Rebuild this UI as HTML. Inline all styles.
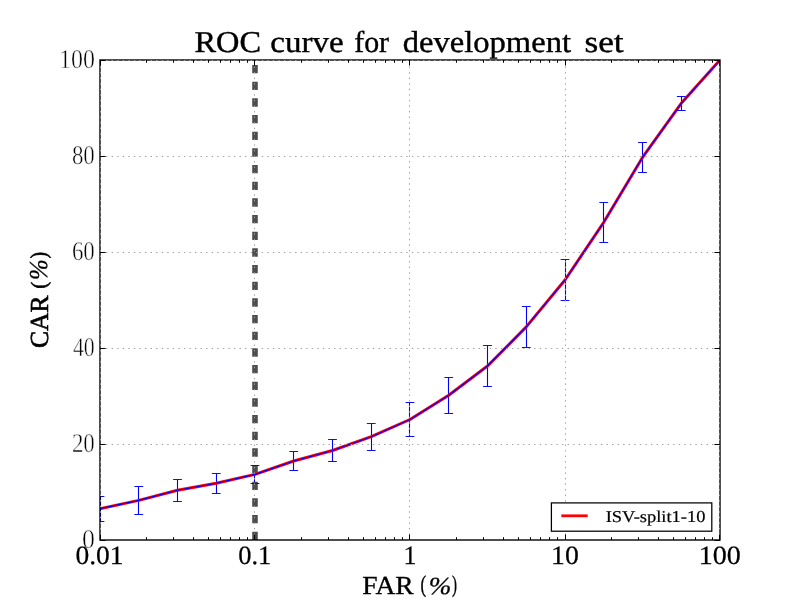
<!DOCTYPE html>
<html><head><meta charset="utf-8"><title>ROC curve for development set</title>
<style>
html,body{margin:0;padding:0;background:#fff;}
body{width:800px;height:600px;overflow:hidden;font-family:"Liberation Serif",serif;}
svg{display:block;}
text{font-family:"Liberation Serif",serif;fill:#000;text-rendering:geometricPrecision;}
</style></head><body>
<svg width="800" height="600" viewBox="0 0 800 600" style="will-change:transform">
<rect x="0" y="0" width="800" height="600" fill="#ffffff"/>
<defs><clipPath id="ax"><rect x="100" y="60" width="620" height="480"/></clipPath></defs>

<g clip-path="url(#ax)">
<line x1="100.50" y1="496.40" x2="100.50" y2="521.00" stroke="#0000ff" stroke-width="1.1"/>
<line x1="138.50" y1="486.40" x2="138.50" y2="514.40" stroke="#0000ff" stroke-width="1.1"/>
<line x1="177.50" y1="479.50" x2="177.50" y2="501.40" stroke="#0000ff" stroke-width="1.1"/>
<line x1="216.50" y1="473.50" x2="216.50" y2="493.40" stroke="#0000ff" stroke-width="1.1"/>
<line x1="254.50" y1="465.50" x2="254.50" y2="483.50" stroke="#0000ff" stroke-width="1.1"/>
<line x1="293.50" y1="451.50" x2="293.50" y2="470.50" stroke="#0000ff" stroke-width="1.1"/>
<line x1="332.50" y1="439.50" x2="332.50" y2="461.50" stroke="#0000ff" stroke-width="1.1"/>
<line x1="371.50" y1="423.50" x2="371.50" y2="450.30" stroke="#0000ff" stroke-width="1.1"/>
<line x1="409.50" y1="402.50" x2="409.50" y2="436.30" stroke="#0000ff" stroke-width="1.1"/>
<line x1="448.50" y1="377.50" x2="448.50" y2="413.50" stroke="#0000ff" stroke-width="1.1"/>
<line x1="487.50" y1="345.30" x2="487.50" y2="386.40" stroke="#0000ff" stroke-width="1.1"/>
<line x1="526.50" y1="306.70" x2="526.50" y2="347.20" stroke="#0000ff" stroke-width="1.1"/>
<line x1="565.50" y1="259.50" x2="565.50" y2="300.50" stroke="#0000ff" stroke-width="1.1"/>
<line x1="603.50" y1="202.50" x2="603.50" y2="242.30" stroke="#0000ff" stroke-width="1.1"/>
<line x1="642.50" y1="142.50" x2="642.50" y2="172.50" stroke="#0000ff" stroke-width="1.1"/>
<line x1="681.50" y1="96.30" x2="681.50" y2="110.30" stroke="#0000ff" stroke-width="1.1"/>
<line x1="255" y1="540" x2="255" y2="60" stroke="#4d4d4d" stroke-width="5.56" stroke-dasharray="8.333 8.333"/>
<path d="M100.00 508.70 L138.75 500.40 L177.50 490.30 L216.25 483.30 L255.00 474.40 L293.75 461.00 L332.50 450.50 L371.25 436.70 L410.00 419.50 L448.75 395.30 L487.50 366.00 L526.25 326.90 L565.00 280.00 L603.75 222.30 L642.50 157.40 L681.25 103.30 L720.00 60.00" fill="none" stroke="#ff0000" stroke-width="3.0" stroke-linejoin="round" stroke-linecap="square"/>
<path d="M100.00 508.70 L138.75 500.40 L177.50 490.30 L216.25 483.30 L255.00 474.40 L293.75 461.00 L332.50 450.50 L371.25 436.70 L410.00 419.50 L448.75 395.30 L487.50 366.00 L526.25 326.90 L565.00 280.00 L603.75 222.30 L642.50 157.40 L681.25 103.30 L720.00 60.00" fill="none" stroke="#0000ff" stroke-width="1.15" stroke-linejoin="round" stroke-linecap="square"/>
<line x1="95.60" y1="496.50" x2="104.40" y2="496.50" stroke="#0000ff" stroke-width="0.95"/>
<line x1="95.60" y1="521.50" x2="104.40" y2="521.50" stroke="#0000ff" stroke-width="0.95"/>
<line x1="134.35" y1="486.50" x2="143.15" y2="486.50" stroke="#0000ff" stroke-width="0.95"/>
<line x1="134.35" y1="514.50" x2="143.15" y2="514.50" stroke="#0000ff" stroke-width="0.95"/>
<line x1="173.10" y1="479.50" x2="181.90" y2="479.50" stroke="#0000ff" stroke-width="0.95"/>
<line x1="173.10" y1="501.50" x2="181.90" y2="501.50" stroke="#0000ff" stroke-width="0.95"/>
<line x1="211.85" y1="473.50" x2="220.65" y2="473.50" stroke="#0000ff" stroke-width="0.95"/>
<line x1="211.85" y1="493.50" x2="220.65" y2="493.50" stroke="#0000ff" stroke-width="0.95"/>
<line x1="250.60" y1="465.50" x2="259.40" y2="465.50" stroke="#0000ff" stroke-width="0.95"/>
<line x1="250.60" y1="483.50" x2="259.40" y2="483.50" stroke="#0000ff" stroke-width="0.95"/>
<line x1="289.35" y1="451.50" x2="298.15" y2="451.50" stroke="#0000ff" stroke-width="0.95"/>
<line x1="289.35" y1="470.50" x2="298.15" y2="470.50" stroke="#0000ff" stroke-width="0.95"/>
<line x1="328.10" y1="439.50" x2="336.90" y2="439.50" stroke="#0000ff" stroke-width="0.95"/>
<line x1="328.10" y1="461.50" x2="336.90" y2="461.50" stroke="#0000ff" stroke-width="0.95"/>
<line x1="366.85" y1="423.50" x2="375.65" y2="423.50" stroke="#0000ff" stroke-width="0.95"/>
<line x1="366.85" y1="450.50" x2="375.65" y2="450.50" stroke="#0000ff" stroke-width="0.95"/>
<line x1="405.60" y1="402.50" x2="414.40" y2="402.50" stroke="#0000ff" stroke-width="0.95"/>
<line x1="405.60" y1="436.50" x2="414.40" y2="436.50" stroke="#0000ff" stroke-width="0.95"/>
<line x1="444.35" y1="377.50" x2="453.15" y2="377.50" stroke="#0000ff" stroke-width="0.95"/>
<line x1="444.35" y1="413.50" x2="453.15" y2="413.50" stroke="#0000ff" stroke-width="0.95"/>
<line x1="483.10" y1="345.50" x2="491.90" y2="345.50" stroke="#0000ff" stroke-width="0.95"/>
<line x1="483.10" y1="386.50" x2="491.90" y2="386.50" stroke="#0000ff" stroke-width="0.95"/>
<line x1="521.85" y1="306.50" x2="530.65" y2="306.50" stroke="#0000ff" stroke-width="0.95"/>
<line x1="521.85" y1="347.50" x2="530.65" y2="347.50" stroke="#0000ff" stroke-width="0.95"/>
<line x1="560.60" y1="259.50" x2="569.40" y2="259.50" stroke="#0000ff" stroke-width="0.95"/>
<line x1="560.60" y1="300.50" x2="569.40" y2="300.50" stroke="#0000ff" stroke-width="0.95"/>
<line x1="599.35" y1="202.50" x2="608.15" y2="202.50" stroke="#0000ff" stroke-width="0.95"/>
<line x1="599.35" y1="242.50" x2="608.15" y2="242.50" stroke="#0000ff" stroke-width="0.95"/>
<line x1="638.10" y1="142.50" x2="646.90" y2="142.50" stroke="#0000ff" stroke-width="0.95"/>
<line x1="638.10" y1="172.50" x2="646.90" y2="172.50" stroke="#0000ff" stroke-width="0.95"/>
<line x1="676.85" y1="96.50" x2="685.65" y2="96.50" stroke="#0000ff" stroke-width="0.95"/>
<line x1="676.85" y1="110.50" x2="685.65" y2="110.50" stroke="#0000ff" stroke-width="0.95"/>
</g>
<rect x="100" y="60" width="620" height="480" fill="none" stroke="#000" stroke-width="1.39"/>
<g stroke="#a0a0a0" stroke-width="1" stroke-dasharray="1.39 4.17" fill="none">
<line x1="100.5" y1="444.5" x2="720" y2="444.5"/>
<line x1="100.5" y1="348.5" x2="720" y2="348.5"/>
<line x1="100.5" y1="252.5" x2="720" y2="252.5"/>
<line x1="100.5" y1="156.5" x2="720" y2="156.5"/>
<line x1="100.5" y1="60.5" x2="720" y2="60.5"/>
<line x1="100.5" y1="540.5" x2="100.5" y2="60"/>
<line x1="254.5" y1="540.5" x2="254.5" y2="60"/>
<line x1="409.5" y1="540.5" x2="409.5" y2="60"/>
<line x1="565.5" y1="540.5" x2="565.5" y2="60"/>
<line x1="719.5" y1="540.5" x2="719.5" y2="60"/>
</g>
<g stroke="#000" stroke-width="1">
<line x1="100" y1="540.5" x2="105.56" y2="540.5"/>
<line x1="720" y1="540.5" x2="714.44" y2="540.5"/>
<line x1="100" y1="444.5" x2="105.56" y2="444.5"/>
<line x1="720" y1="444.5" x2="714.44" y2="444.5"/>
<line x1="100" y1="348.5" x2="105.56" y2="348.5"/>
<line x1="720" y1="348.5" x2="714.44" y2="348.5"/>
<line x1="100" y1="252.5" x2="105.56" y2="252.5"/>
<line x1="720" y1="252.5" x2="714.44" y2="252.5"/>
<line x1="100" y1="156.5" x2="105.56" y2="156.5"/>
<line x1="720" y1="156.5" x2="714.44" y2="156.5"/>
<line x1="100" y1="60.5" x2="105.56" y2="60.5"/>
<line x1="720" y1="60.5" x2="714.44" y2="60.5"/>
<line x1="100.5" y1="540" x2="100.5" y2="534.44"/>
<line x1="100.5" y1="60" x2="100.5" y2="65.56"/>
<line x1="146.5" y1="540" x2="146.5" y2="537.22"/>
<line x1="146.5" y1="60" x2="146.5" y2="62.78"/>
<line x1="173.5" y1="540" x2="173.5" y2="537.22"/>
<line x1="173.5" y1="60" x2="173.5" y2="62.78"/>
<line x1="193.5" y1="540" x2="193.5" y2="537.22"/>
<line x1="193.5" y1="60" x2="193.5" y2="62.78"/>
<line x1="208.5" y1="540" x2="208.5" y2="537.22"/>
<line x1="208.5" y1="60" x2="208.5" y2="62.78"/>
<line x1="220.5" y1="540" x2="220.5" y2="537.22"/>
<line x1="220.5" y1="60" x2="220.5" y2="62.78"/>
<line x1="230.5" y1="540" x2="230.5" y2="537.22"/>
<line x1="230.5" y1="60" x2="230.5" y2="62.78"/>
<line x1="239.5" y1="540" x2="239.5" y2="537.22"/>
<line x1="239.5" y1="60" x2="239.5" y2="62.78"/>
<line x1="247.5" y1="540" x2="247.5" y2="537.22"/>
<line x1="247.5" y1="60" x2="247.5" y2="62.78"/>
<line x1="254.5" y1="540" x2="254.5" y2="534.44"/>
<line x1="254.5" y1="60" x2="254.5" y2="65.56"/>
<line x1="301.5" y1="540" x2="301.5" y2="537.22"/>
<line x1="301.5" y1="60" x2="301.5" y2="62.78"/>
<line x1="328.5" y1="540" x2="328.5" y2="537.22"/>
<line x1="328.5" y1="60" x2="328.5" y2="62.78"/>
<line x1="348.5" y1="540" x2="348.5" y2="537.22"/>
<line x1="348.5" y1="60" x2="348.5" y2="62.78"/>
<line x1="363.5" y1="540" x2="363.5" y2="537.22"/>
<line x1="363.5" y1="60" x2="363.5" y2="62.78"/>
<line x1="375.5" y1="540" x2="375.5" y2="537.22"/>
<line x1="375.5" y1="60" x2="375.5" y2="62.78"/>
<line x1="385.5" y1="540" x2="385.5" y2="537.22"/>
<line x1="385.5" y1="60" x2="385.5" y2="62.78"/>
<line x1="394.5" y1="540" x2="394.5" y2="537.22"/>
<line x1="394.5" y1="60" x2="394.5" y2="62.78"/>
<line x1="402.5" y1="540" x2="402.5" y2="537.22"/>
<line x1="402.5" y1="60" x2="402.5" y2="62.78"/>
<line x1="409.5" y1="540" x2="409.5" y2="534.44"/>
<line x1="409.5" y1="60" x2="409.5" y2="65.56"/>
<line x1="456.5" y1="540" x2="456.5" y2="537.22"/>
<line x1="456.5" y1="60" x2="456.5" y2="62.78"/>
<line x1="483.5" y1="540" x2="483.5" y2="537.22"/>
<line x1="483.5" y1="60" x2="483.5" y2="62.78"/>
<line x1="503.5" y1="540" x2="503.5" y2="537.22"/>
<line x1="503.5" y1="60" x2="503.5" y2="62.78"/>
<line x1="518.5" y1="540" x2="518.5" y2="537.22"/>
<line x1="518.5" y1="60" x2="518.5" y2="62.78"/>
<line x1="530.5" y1="540" x2="530.5" y2="537.22"/>
<line x1="530.5" y1="60" x2="530.5" y2="62.78"/>
<line x1="540.5" y1="540" x2="540.5" y2="537.22"/>
<line x1="540.5" y1="60" x2="540.5" y2="62.78"/>
<line x1="549.5" y1="540" x2="549.5" y2="537.22"/>
<line x1="549.5" y1="60" x2="549.5" y2="62.78"/>
<line x1="557.5" y1="540" x2="557.5" y2="537.22"/>
<line x1="557.5" y1="60" x2="557.5" y2="62.78"/>
<line x1="565.5" y1="540" x2="565.5" y2="534.44"/>
<line x1="565.5" y1="60" x2="565.5" y2="65.56"/>
<line x1="611.5" y1="540" x2="611.5" y2="537.22"/>
<line x1="611.5" y1="60" x2="611.5" y2="62.78"/>
<line x1="638.5" y1="540" x2="638.5" y2="537.22"/>
<line x1="638.5" y1="60" x2="638.5" y2="62.78"/>
<line x1="658.5" y1="540" x2="658.5" y2="537.22"/>
<line x1="658.5" y1="60" x2="658.5" y2="62.78"/>
<line x1="673.5" y1="540" x2="673.5" y2="537.22"/>
<line x1="673.5" y1="60" x2="673.5" y2="62.78"/>
<line x1="685.5" y1="540" x2="685.5" y2="537.22"/>
<line x1="685.5" y1="60" x2="685.5" y2="62.78"/>
<line x1="695.5" y1="540" x2="695.5" y2="537.22"/>
<line x1="695.5" y1="60" x2="695.5" y2="62.78"/>
<line x1="704.5" y1="540" x2="704.5" y2="537.22"/>
<line x1="704.5" y1="60" x2="704.5" y2="62.78"/>
<line x1="712.5" y1="540" x2="712.5" y2="537.22"/>
<line x1="712.5" y1="60" x2="712.5" y2="62.78"/>
<line x1="719.5" y1="540" x2="719.5" y2="534.44"/>
<line x1="719.5" y1="60" x2="719.5" y2="65.56"/>
</g>
<text x="59.00" y="68.30" font-size="27.00" textLength="35.89" lengthAdjust="spacingAndGlyphs" stroke="#fff" stroke-width="0.5" >100</text>
<text x="71.90" y="164.30" font-size="27.00" textLength="22.93" lengthAdjust="spacingAndGlyphs" stroke="#fff" stroke-width="0.5" >80</text>
<text x="71.90" y="260.30" font-size="27.00" textLength="22.93" lengthAdjust="spacingAndGlyphs" stroke="#fff" stroke-width="0.5" >60</text>
<text x="72.90" y="356.30" font-size="27.00" textLength="21.89" lengthAdjust="spacingAndGlyphs" stroke="#fff" stroke-width="0.5" >40</text>
<text x="71.90" y="452.30" font-size="27.00" textLength="22.93" lengthAdjust="spacingAndGlyphs" stroke="#fff" stroke-width="0.5" >20</text>
<text x="82.00" y="548.30" font-size="27.00" textLength="12.92" lengthAdjust="spacingAndGlyphs" stroke="#fff" stroke-width="0.5" >0</text>
<text x="75.50" y="564.30" font-size="26.50" textLength="48.09" lengthAdjust="spacingAndGlyphs" stroke="#000" stroke-width="0.25" >0.01</text>
<text x="238.20" y="564.30" font-size="26.50" textLength="33.05" lengthAdjust="spacingAndGlyphs" stroke="#000" stroke-width="0.25" >0.1</text>
<text x="403.50" y="564.30" font-size="26.50" textLength="12.92" lengthAdjust="spacingAndGlyphs" stroke="#000" stroke-width="0.25" >1</text>
<text x="551.00" y="564.30" font-size="26.50" textLength="27.75" lengthAdjust="spacingAndGlyphs" stroke="#000" stroke-width="0.25" >10</text>
<text x="698.70" y="564.30" font-size="26.50" textLength="42.10" lengthAdjust="spacingAndGlyphs" stroke="#000" stroke-width="0.25" >100</text>
<text x="194.50" y="52.40" font-size="30.30" textLength="66.56" lengthAdjust="spacingAndGlyphs" stroke="#000" stroke-width="0.4" >ROC</text>
<text x="270.30" y="52.40" font-size="30.30" textLength="73.25" lengthAdjust="spacingAndGlyphs" stroke="#000" stroke-width="0.4" >curve</text>
<text x="354.20" y="52.40" font-size="30.30" textLength="34.85" lengthAdjust="spacingAndGlyphs" stroke="#000" stroke-width="0.4" >for</text>
<text x="584.45" y="52.40" font-size="30.30" textLength="39.20" lengthAdjust="spacingAndGlyphs" stroke="#000" stroke-width="0.4" >set</text>
<text x="402.75" y="52.40" font-size="30.30" textLength="168.26" lengthAdjust="spacingAndGlyphs" stroke="#000" stroke-width="0.4" >development</text>
<text x="362.20" y="593.70" font-size="26.00" textLength="51.51" lengthAdjust="spacingAndGlyphs" stroke="#000" stroke-width="0.35" >FAR</text>
<text x="420.50" y="592.10" font-size="23.79" textLength="5.64" lengthAdjust="spacingAndGlyphs" stroke="#000" stroke-width="0.35" >(</text>
<text x="428.70" y="593.80" font-size="24.63" textLength="22.59" lengthAdjust="spacingAndGlyphs" font-style="italic" stroke="#000" stroke-width="0.3" >%</text>
<text x="452.00" y="592.10" font-size="23.79" textLength="5.00" lengthAdjust="spacingAndGlyphs" stroke="#000" stroke-width="0.35" >)</text>
<g transform="translate(48,348) rotate(-90) translate(-200,-300)">
<text x="200.00" y="300.00" font-size="26.00" textLength="52.51" lengthAdjust="spacingAndGlyphs" stroke="#000" stroke-width="0.6" >CAR</text>
<text x="259.50" y="297.60" font-size="21.78" textLength="6.62" lengthAdjust="spacingAndGlyphs" stroke="#000" stroke-width="0.6" >(</text>
<text x="268.00" y="299.20" font-size="25.77" textLength="20.72" lengthAdjust="spacingAndGlyphs" font-style="italic" stroke="#000" stroke-width="0.3" >%</text>
<text x="289.50" y="298.10" font-size="22.73" textLength="6.62" lengthAdjust="spacingAndGlyphs" stroke="#000" stroke-width="0.6" >)</text>
</g>
<rect x="551.4" y="502.9" width="160.4" height="28.3" fill="#fff" stroke="#000" stroke-width="1.25"/>
<line x1="562.7" y1="515.8" x2="586.3" y2="515.8" stroke="#ff0000" stroke-width="2.78" stroke-linecap="square"/>
<text x="605.70" y="522.00" font-size="16.60" textLength="99.71" lengthAdjust="spacingAndGlyphs" stroke="#000" stroke-width="0.2" >ISV-split1-10</text>
</svg></body></html>
